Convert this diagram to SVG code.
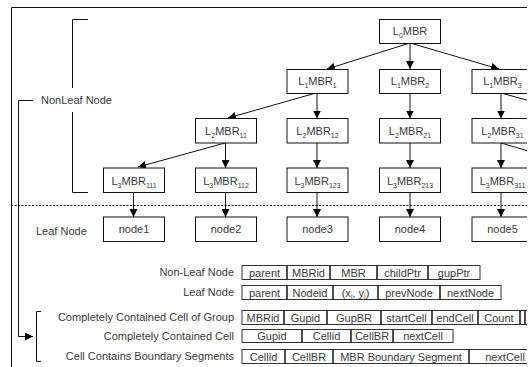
<svg xmlns="http://www.w3.org/2000/svg" width="531" height="367" viewBox="0 0 531 367">
<style>
text{font-family:"Liberation Sans",Arial,sans-serif;font-size:11px;fill:#3a3a3a}
.c{text-anchor:middle}
.r{text-anchor:end}
.box{fill:#fff;stroke:#111;stroke-width:1}
.ln{fill:none;stroke:#111;stroke-width:1}
.row{fill:#fff;stroke:#333;stroke-width:1}
.dv{stroke:#222;stroke-width:1.6}
.sub{font-size:7px}
.arr{marker-end:url(#ah)}
</style>
<defs>
<marker id="ah" markerUnits="userSpaceOnUse" markerWidth="9" markerHeight="8" refX="8" refY="4" orient="auto">
<path d="M0,0 L8,4 L0,8 Z" fill="#000"/>
</marker>
<clipPath id="cl"><rect x="0" y="0" width="527" height="367"/></clipPath>
</defs>
<rect width="531" height="367" fill="#fff"/>
<g clip-path="url(#cl)">
<g id="frame" class="ln">
<path d="M11.5,367 V7.5 H527"/>
<path d="M11,205.5 H527" stroke-dasharray="2,1.5"/>
<path d="M88,19.5 H72.5 V88 M72.5,112 V192.5 H88"/>
<path d="M33,100.5 H18.5 V336.5 H26"/>
<path d="M41,311.5 H36.5 V361.5 H41"/>
<path class="arr" d="M18.5,336.5 H33"/>
</g>
<text x="41" y="104">NonLeaf Node</text>
<text x="36" y="235">Leaf Node</text>

<g id="connectors" class="ln">
<path class="arr" d="M410,43 L327,69"/>
<path class="arr" d="M410,43 V69"/>
<path class="arr" d="M410,43 L499,69"/>
<path class="arr" d="M316,93 L228,118"/>
<path class="arr" d="M317,93 V118.5"/>
<path class="arr" d="M410,93 V118.5"/>
<path class="arr" d="M501,93 V118.5"/>
<path d="M501,93 L530,101"/>
<path class="arr" d="M225,143 L138,167"/>
<path class="arr" d="M225.5,143 V168"/>
<path class="arr" d="M317,143 V168"/>
<path class="arr" d="M410,143 V168"/>
<path class="arr" d="M501,143 V168"/>
<path d="M501,143 L530,151.5"/>
<path class="arr" d="M133.5,193 V217"/>
<path class="arr" d="M225.5,193 V217"/>
<path class="arr" d="M317,193 V217"/>
<path class="arr" d="M410,193 V217"/>
<path class="arr" d="M501,193 V217"/>
</g>

<g id="L0MBR"><rect class="box" x="379.5" y="19.5" width="61" height="24"/><text class="c" x="410" y="35">L<tspan class="sub" dy="3">0</tspan><tspan dy="-3">MBR</tspan></text></g>

<g id="L1MBR1"><rect class="box" x="287" y="69.5" width="61" height="24"/><text class="c" x="317.5" y="85">L<tspan class="sub" dy="3">1</tspan><tspan dy="-3">MBR</tspan><tspan class="sub" dy="3">1</tspan></text></g>
<g id="L1MBR2"><rect class="box" x="379.5" y="69.5" width="61" height="24"/><text class="c" x="410" y="85">L<tspan class="sub" dy="3">1</tspan><tspan dy="-3">MBR</tspan><tspan class="sub" dy="3">2</tspan></text></g>
<g id="L1MBR3"><rect class="box" x="472" y="69.5" width="61" height="24"/><text class="c" x="502.5" y="85">L<tspan class="sub" dy="3">1</tspan><tspan dy="-3">MBR</tspan><tspan class="sub" dy="3">3</tspan></text></g>

<g id="L2MBR11"><rect class="box" x="195.5" y="118.5" width="61" height="24.5"/><text class="c" x="226" y="135">L<tspan class="sub" dy="3">2</tspan><tspan dy="-3">MBR</tspan><tspan class="sub" dy="3">11</tspan></text></g>
<g id="L2MBR12"><rect class="box" x="287" y="118.5" width="61" height="24.5"/><text class="c" x="317.5" y="135">L<tspan class="sub" dy="3">2</tspan><tspan dy="-3">MBR</tspan><tspan class="sub" dy="3">12</tspan></text></g>
<g id="L2MBR21"><rect class="box" x="379.5" y="118.5" width="61" height="24.5"/><text class="c" x="410" y="135">L<tspan class="sub" dy="3">2</tspan><tspan dy="-3">MBR</tspan><tspan class="sub" dy="3">21</tspan></text></g>
<g id="L2MBR31"><rect class="box" x="472" y="118.5" width="61" height="24.5"/><text class="c" x="502.5" y="135">L<tspan class="sub" dy="3">2</tspan><tspan dy="-3">MBR</tspan><tspan class="sub" dy="3">31</tspan></text></g>

<g id="L3MBR111"><rect class="box" x="103.5" y="168" width="61" height="24.5"/><text class="c" x="134" y="184.5">L<tspan class="sub" dy="3">3</tspan><tspan dy="-3">MBR</tspan><tspan class="sub" dy="3">111</tspan></text></g>
<g id="L3MBR112"><rect class="box" x="195.5" y="168" width="61" height="24.5"/><text class="c" x="226" y="184.5">L<tspan class="sub" dy="3">3</tspan><tspan dy="-3">MBR</tspan><tspan class="sub" dy="3">112</tspan></text></g>
<g id="L3MBR123"><rect class="box" x="287" y="168" width="61" height="24.5"/><text class="c" x="317.5" y="184.5">L<tspan class="sub" dy="3">3</tspan><tspan dy="-3">MBR</tspan><tspan class="sub" dy="3">123</tspan></text></g>
<g id="L3MBR213"><rect class="box" x="379.5" y="168" width="61" height="24.5"/><text class="c" x="410" y="184.5">L<tspan class="sub" dy="3">3</tspan><tspan dy="-3">MBR</tspan><tspan class="sub" dy="3">213</tspan></text></g>
<g id="L3MBR311"><rect class="box" x="472" y="168" width="61" height="24.5"/><text class="c" x="502.5" y="184.5">L<tspan class="sub" dy="3">3</tspan><tspan dy="-3">MBR</tspan><tspan class="sub" dy="3">311</tspan></text></g>

<g id="node1"><rect class="box" x="103.5" y="217" width="61" height="24.5"/><text class="c" x="134" y="233">node1</text></g>
<g id="node2"><rect class="box" x="195.5" y="217" width="61" height="24.5"/><text class="c" x="226" y="233">node2</text></g>
<g id="node3"><rect class="box" x="287" y="217" width="61" height="24.5"/><text class="c" x="317.5" y="233">node3</text></g>
<g id="node4"><rect class="box" x="379.5" y="217" width="61" height="24.5"/><text class="c" x="410" y="233">node4</text></g>
<g id="node5"><rect class="box" x="472" y="217" width="61" height="24.5"/><text class="c" x="502.5" y="233">node5</text></g>

<g id="table-nonleaf">
<text class="r" x="234" y="276">Non-Leaf Node</text>
<rect class="row" x="242" y="265.5" width="238" height="14"/>
<path class="dv" d="M287,265.5 v14 M330,265.5 v14 M377,265.5 v14 M428,265.5 v14"/>
<text class="c" x="264.5" y="276.5">parent</text><text class="c" x="308.5" y="276.5">MBRid</text><text class="c" x="353.5" y="276.5">MBR</text><text class="c" x="402.5" y="276.5">childPtr</text><text class="c" x="454" y="276.5">gupPtr</text>
</g>
<g id="table-leaf">
<text class="r" x="234" y="296">Leaf Node</text>
<rect class="row" x="242" y="285.5" width="259" height="14"/>
<path class="dv" d="M287,285.5 v14 M333,285.5 v14 M378,285.5 v14 M440,285.5 v14"/>
<text class="c" x="264.5" y="296.5">parent</text><text class="c" x="310" y="296.5">Nodeid</text><text class="c" x="355.5" y="296.5">(x<tspan class="sub" dy="2">i</tspan><tspan dy="-2">, y</tspan><tspan class="sub" dy="2">i</tspan><tspan dy="-2">)</tspan></text><text class="c" x="409" y="296.5">prevNode</text><text class="c" x="470.5" y="296.5">nextNode</text>
</g>
<g id="table-ccg">
<text class="r" x="234" y="321">Completely Contained Cell of Group</text>
<rect class="row" x="242" y="310.5" width="300" height="14"/>
<path class="dv" d="M284,310.5 v14 M327,310.5 v14 M381,310.5 v14 M432,310.5 v14 M478,310.5 v14 M520,310.5 v14 M525,310.5 v14"/>
<text class="c" x="263" y="321.5">MBRid</text><text class="c" x="305.5" y="321.5">Gupid</text><text class="c" x="354" y="321.5">GupBR</text><text class="c" x="406.5" y="321.5">startCell</text><text class="c" x="455" y="321.5">endCell</text><text class="c" x="499" y="321.5">Count</text>
</g>
<g id="table-cc">
<text class="r" x="234" y="340">Completely Contained Cell</text>
<rect class="row" x="242" y="329.5" width="211" height="13"/>
<path class="dv" d="M302,329.5 v13 M351,329.5 v13 M393,329.5 v13"/>
<text class="c" x="272" y="340">Gupid</text><text class="c" x="326.5" y="340">Cellid</text><text class="c" x="372" y="340">CellBR</text><text class="c" x="423" y="340">nextCell</text>
</g>
<g id="table-cbs">
<text class="r" x="234" y="360">Cell Contains Boundary Segments</text>
<rect class="row" x="242" y="349.5" width="300" height="14"/>
<path class="dv" d="M285,349.5 v14 M333,349.5 v14 M469,349.5 v14"/>
<text class="c" x="263.5" y="360.5">Cellid</text><text class="c" x="309" y="360.5">CellBR</text><text class="c" x="401" y="360.5">MBR Boundary Segment</text><text class="c" x="505" y="360.5">nextCell</text>
</g>
</g>
</svg>
